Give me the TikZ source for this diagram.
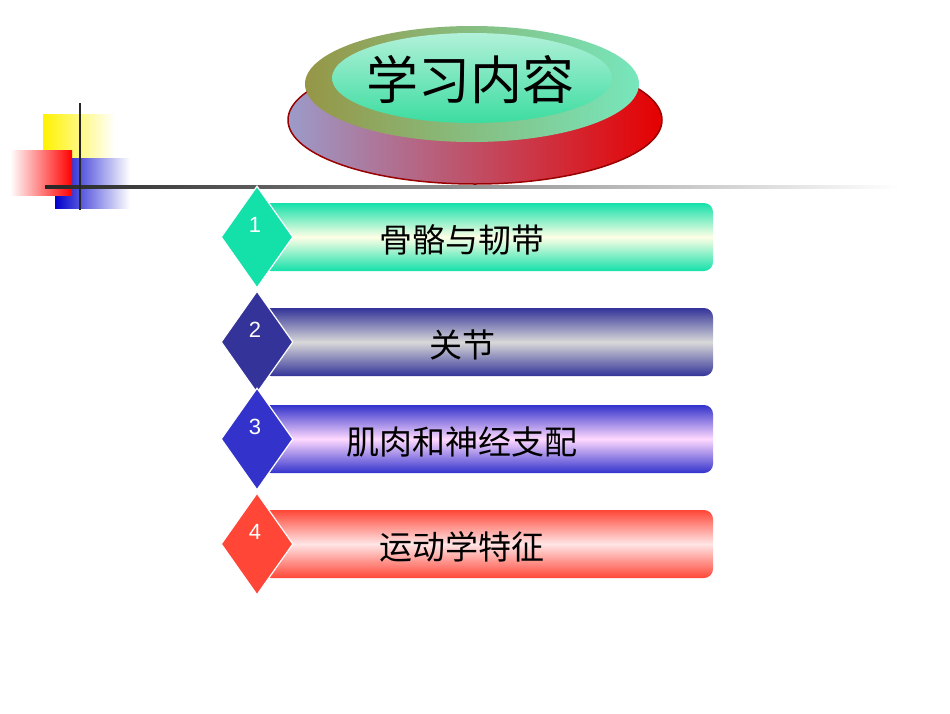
\documentclass[tikz,border=0pt]{standalone}
\usepackage{fontspec}
\newfontfamily\cjk{Noto Sans CJK SC}
\setmainfont{Liberation Sans}
\usetikzlibrary{shapes.geometric,fadings}
\definecolor{cA}{RGB}{20,224,170}
\definecolor{cB}{RGB}{51,51,153}
\definecolor{cC}{RGB}{51,51,204}
\definecolor{cD}{RGB}{255,70,55}
\definecolor{olv}{RGB}{150,150,70}
\definecolor{mint}{RGB}{60,220,160}
\tikzset{
  barbox/.style={rounded corners=9pt},
  dia/.style={diamond,draw=white,line width=1.2pt,minimum width=72pt,minimum height=102pt,inner sep=0pt,aspect=0.7},
  num/.style={text=white,font=\fontsize{22}{22}\selectfont},
  lab/.style={font=\cjk\fontsize{33}{33}\selectfont}
}
\newcommand{\mkrow}[5]{% y, color, mid color, number, text
  \shade[barbox,top color=#2,bottom color=#2,middle color=#3] (262,#1-34) rectangle (713,#1+34);
  \node[dia,fill=#2] (d#4) at (257,#1) {};
  \node[num] (n#4) at (255,#1-12) {#4};
  \node[lab] (t#4) at (462,#1+3) {#5};
}
\begin{document}
\begin{tikzpicture}[x=1pt,y=-1pt]
\useasboundingbox (0,0) rectangle (950,713);
% decoration squares
\shade[left color=yellow!90!orange,right color=white] (43,114) rectangle (115,165);
\shade[left color=blue!80!black,right color=white] (55,158) rectangle (130,208);
\shade[left color=white,right color=red] (10,150) rectangle (72,195);
\shade[left color=black!85,right color=white] (45,185) rectangle (900,188);
\draw[black!85,line width=2.5pt] (80,103) -- (80,210);
% title
\shade[left color=blue!30!gray!60,right color=red!90!black] (475,120) ellipse (187 and 64);
\draw[red!60!black,line width=1.5pt] (475,120) ellipse (187 and 64);
\shade[left color=olv,right color=mint!70!white] (472,84) ellipse (167 and 58);
\shade[top color=white!60!mint,bottom color=mint] (472,78) ellipse (140 and 45);
\node[font=\cjk\fontsize{52}{52}\selectfont] (title) at (470,80) {学习内容};
% rows
\mkrow{237}{cA}{white!90!yellow}{1}{骨骼与韧带}
\mkrow{342}{cB}{black!15}{2}{关节}
\mkrow{439}{cC}{white!85!magenta}{3}{肌肉和神经支配}
\mkrow{544}{cD}{white!90!red}{4}{运动学特征}
\end{tikzpicture}
\end{document}
